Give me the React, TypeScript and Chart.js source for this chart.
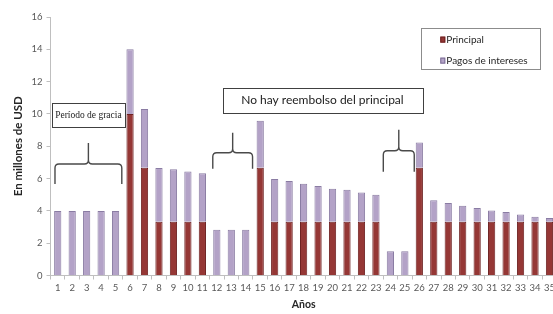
import React, { useEffect, useRef } from "react";
import { Chart, registerables } from "chart.js";

Chart.register(...registerables);

const categories = ["1","2","3","4","5","6","7","8","9","10","11","12","13","14","15","16","17","18","19","20","21","22","23","24","25","26","27","28","29","30","31","32","33","34","35"];

const principal = [0, 0, 0, 0, 0, 10, 6.67, 3.33, 3.33, 3.33, 3.33, 0, 0, 0, 6.67, 3.33, 3.33, 3.33, 3.33, 3.33, 3.33, 3.33, 3.33, 0, 0, 6.67, 3.33, 3.33, 3.33, 3.33, 3.33, 3.33, 3.33, 3.33, 3.33];

const intereses = [4, 4, 4, 4, 4, 4.0, 3.63, 3.32, 3.25, 3.1, 3.0, 2.83, 2.83, 2.83, 2.91, 2.64, 2.52, 2.35, 2.21, 2.04, 1.98, 1.81, 1.67, 1.5, 1.5, 1.56, 1.32, 1.16, 0.99, 0.85, 0.7, 0.6, 0.44, 0.31, 0.23];

const seriesLabels = ["Principal", "Pagos de intereses"];
const yTicks = [0, 2, 4, 6, 8, 10, 12, 14, 16];
const axisTitles = { x: "Años", y: "En millones de USD" };
const noteTexts = ["Período de gracia", "No hay reembolso del principal"];

const RED = "#953735";
const PURPLE = "#B3A2C7";

// annotation geometry in (category index, value) units
const braces = [
  { x0: -0.19, x1: 4.43, yb: 5.67, yh: 6.9, yt: 8.2 },
  { x0: 10.72, x1: 13.47, yb: 6.6, yh: 7.6, yt: 8.84 },
  { x0: 22.51, x1: 24.65, yb: 6.42, yh: 7.72, yt: 9.02 },
];
const boxes = [
  { x0: -0.4, x1: 4.64, yTop: 10.7, yBot: 9.21, font: "9.5px 'Liberation Serif'", text: 0 },
  { x0: 11.4, x1: 25.2, yTop: 11.63, yBot: 10.08, font: "12px Lato", text: 1 },
];
const legendBox = { x0: 25.14, x1: 33.35, yTop: 15.29, yBot: 12.74, sx: 26.45, rows: [14.6, 13.3] };

const annotationPlugin = {
  id: "annotations",
  afterDraw(chart: any) {
    const ctx = chart.ctx;
    const xs = chart.scales.x;
    const ys = chart.scales.y;
    const X = (v: number) => xs.getPixelForValue(v);
    const Y = (v: number) => ys.getPixelForValue(v);
    ctx.save();
    // braces
    ctx.strokeStyle = "#4a4a4a";
    ctx.lineWidth = 1.4;
    braces.forEach((b) => {
      const x0 = X(b.x0), x1 = X(b.x1), xc = (x0 + x1) / 2;
      const yb = Y(b.yb), yh = Y(b.yh), yt = Y(b.yt);
      const r = 4;
      ctx.beginPath();
      ctx.moveTo(x0, yb);
      ctx.lineTo(x0, yh + r);
      ctx.quadraticCurveTo(x0, yh, x0 + r, yh);
      ctx.lineTo(xc - r, yh);
      ctx.quadraticCurveTo(xc, yh, xc, yh - r);
      ctx.lineTo(xc, yt);
      ctx.moveTo(xc, yh - r);
      ctx.quadraticCurveTo(xc, yh, xc + r, yh);
      ctx.lineTo(x1 - r, yh);
      ctx.quadraticCurveTo(x1, yh, x1, yh + r);
      ctx.lineTo(x1, yb);
      ctx.stroke();
    });
    // text boxes
    boxes.forEach((b) => {
      const x0 = X(b.x0), x1 = X(b.x1), y0 = Y(b.yTop), y1 = Y(b.yBot);
      ctx.fillStyle = "#ffffff";
      ctx.fillRect(x0, y0, x1 - x0, y1 - y0);
      ctx.strokeStyle = "#404040";
      ctx.lineWidth = 1;
      ctx.strokeRect(Math.round(x0) + 0.5, Math.round(y0) + 0.5, Math.round(x1 - x0), Math.round(y1 - y0));
      ctx.fillStyle = "#222222";
      ctx.font = b.font;
      ctx.textAlign = "center";
      ctx.textBaseline = "middle";
      ctx.fillText(noteTexts[b.text], (x0 + x1) / 2, (y0 + y1) / 2 + 0.5);
    });
    // legend
    {
      const lb = legendBox;
      const x0 = X(lb.x0), x1 = X(lb.x1), y0 = Y(lb.yTop), y1 = Y(lb.yBot);
      ctx.fillStyle = "#ffffff";
      ctx.fillRect(x0, y0, x1 - x0, y1 - y0);
      ctx.strokeStyle = "#8c8c8c";
      ctx.lineWidth = 1;
      ctx.strokeRect(Math.round(x0) + 0.5, Math.round(y0) + 0.5, Math.round(x1 - x0), Math.round(y1 - y0));
      const colors = [RED, PURPLE];
      const borders = ["#6e2222", "#7d6f96"];
      lb.rows.forEach((rv, i) => {
        const sx = X(lb.sx);
        const cy = Y(rv);
        ctx.fillStyle = colors[i];
        ctx.fillRect(sx, cy - 3, 5, 6);
        ctx.strokeStyle = borders[i];
        ctx.strokeRect(sx + 0.5, cy - 2.5, 4, 5);
        ctx.fillStyle = "#262626";
        ctx.font = "10px Lato";
        ctx.textAlign = "left";
        ctx.textBaseline = "middle";
        ctx.fillText(seriesLabels[i], sx + 6, cy);
      });
    }
    ctx.restore();
  },
};

export default function App() {
  const ref = useRef<HTMLCanvasElement | null>(null);
  useEffect(() => {
    if (!ref.current) return;
    const chart = new Chart(ref.current, {
      type: "bar",
      data: {
        labels: categories,
        datasets: [
          {
            label: seriesLabels[0],
            data: principal,
            backgroundColor: RED,
            borderColor: "#6e2222",
            borderWidth: 1,
            barPercentage: 0.5,
            categoryPercentage: 1,
          },
          {
            label: seriesLabels[1],
            data: intereses,
            backgroundColor: PURPLE,
            borderColor: "#8a7ca3",
            borderWidth: 1,
            barPercentage: 0.5,
            categoryPercentage: 1,
          },
        ],
      },
      options: {
        animation: false,
        responsive: false,
        maintainAspectRatio: false,
        layout: { padding: { top: 17, left: 0, right: 0, bottom: 0 } },
        plugins: {
          legend: { display: false },
          tooltip: { enabled: false },
        },
        scales: {
          x: {
            stacked: true,
            afterFit: (s: any) => { s.height = 38.5; },
            grid: { drawOnChartArea: false, drawTicks: true, tickLength: 4, color: "#bfbfbf", offset: true },
            border: { color: "#bfbfbf", width: 1 },
            ticks: { color: "#595959", font: { family: "Lato", size: 9.5 }, padding: 3, maxRotation: 0, autoSkip: false },
            title: { display: true, text: axisTitles.x, color: "#262626", font: { family: "Lato", size: 10.5, weight: "bold" }, padding: { top: 0, bottom: 3 } },
          },
          y: {
            stacked: true,
            min: 0,
            max: 16,
            afterFit: (s: any) => { s.width = 50.5; },
            afterBuildTicks: (s: any) => { s.ticks = yTicks.map((v) => ({ value: v })); },
            grid: { drawOnChartArea: false, drawTicks: true, tickLength: 4, color: "#bfbfbf" },
            border: { color: "#bfbfbf", width: 1 },
            ticks: { color: "#595959", font: { family: "Lato", size: 9.5 }, padding: 4 },
            title: { display: true, text: axisTitles.y, color: "#262626", font: { family: "Lato", size: 11.5, weight: "bold" }, padding: { top: 11, bottom: 0 } },
          },
        },
      },
      plugins: [annotationPlugin],
    });
    return () => chart.destroy();
  }, []);
  return (
    <div style={{ position: "fixed", left: 0, top: 0, width: 553, height: 314, overflow: "hidden", background: "#fff" }}>
      <canvas ref={ref} width={558} height={314} style={{ display: "block", width: 558, height: 314 }} />
    </div>
  );
}
